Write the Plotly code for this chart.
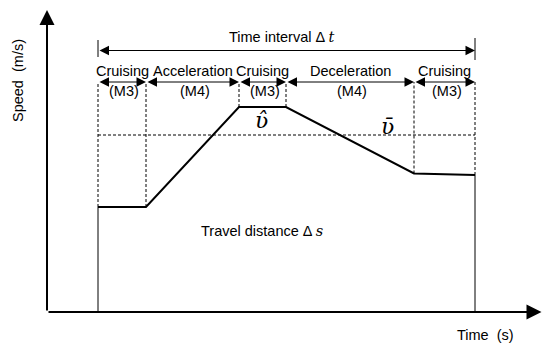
import plotly.graph_objects as go

# ---- data (arbitrary schematic units) ----
t_break = [5.1, 9.9, 19.2, 23.9, 36.7, 42.8]      # segment boundary times
speed = [10.5, 10.5, 20.5, 20.5, 13.85, 13.7]     # speed at each boundary
v_mean = 17.7                                      # average speed
seg_names = ["Cruising", "Acceleration", "Cruising", "Deceleration", "Cruising"]
seg_modes = ["(M3)", "(M4)", "(M3)", "(M4)", "(M3)"]
x_label = "Time  (s)"
y_label = "Speed  (m/s)"

FONT = "Liberation Sans, Arial, Helvetica, sans-serif"
SERIF = "DejaVu Serif, Liberation Serif, serif"
# page has an 8px body margin: figure is 542x344, mapped so 1 unit = 10 px
X_RANGE = [-3.9, 50.3]
Y_RANGE = [-4.0, 30.4]
x_tip, y_tip = 49.45, 30.2
dim_y, span_y = 23.0, 26.15

fig = go.Figure()

# speed profile
fig.add_trace(go.Scatter(x=t_break, y=speed, mode="lines",
                         line=dict(color="black", width=2), hoverinfo="skip"))

shapes = []
for t, v in [(t_break[0], speed[0]), (t_break[-1], speed[-1])]:
    shapes.append(dict(type="line", x0=t, x1=t, y0=0, y1=v,
                       line=dict(color="black", width=1)))
for t, v in zip(t_break, speed):
    shapes.append(dict(type="line", x0=t, x1=t, y0=v, y1=dim_y,
                       line=dict(color="black", width=1, dash="3px,2px")))
shapes.append(dict(type="line", x0=t_break[0], x1=t_break[-1], y0=v_mean, y1=v_mean,
                   line=dict(color="black", width=1, dash="3px,2px")))
shapes.append(dict(type="line", x0=t_break[0], x1=t_break[0], y0=25.5, y1=27.2,
                   line=dict(color="black", width=1)))
shapes.append(dict(type="line", x0=t_break[-1], x1=t_break[-1], y0=25.2, y1=27.4,
                   line=dict(color="black", width=1)))

ann = []
def arrow(x0, y0, x1, y1, width=1, size=1.6, both=False):
    d = dict(x=x1, y=y1, ax=x0, ay=y0, xref="x", yref="y", axref="x", ayref="y",
             text="", showarrow=True, arrowhead=2, arrowsize=size, arrowwidth=width,
             arrowcolor="black", standoff=0, startstandoff=0)
    if both:
        d.update(arrowside="end+start", startarrowhead=2, startarrowsize=size)
    ann.append(d)

arrow(0, 0, x_tip, 0, width=2, size=1.5)
arrow(0, 0, 0, y_tip, width=2, size=1.5)
arrow(t_break[0], span_y, t_break[-1], span_y, width=1, size=1.9, both=True)
for i in range(5):
    arrow(t_break[i], dim_y, t_break[i + 1], dim_y, width=1, size=1.9, both=True)

def text(x, y, s, size=14.5, family=FONT, angle=0):
    ann.append(dict(x=x, y=y, xref="x", yref="y", text=s, showarrow=False,
                    font=dict(family=family, size=size, color="black"),
                    textangle=angle, xanchor="center", yanchor="middle"))

for i in range(5):
    mid = (t_break[i] + t_break[i + 1]) / 2
    text(mid, 24.1, seg_names[i])
    text(mid + 0.2, 22.1, seg_modes[i])

text((t_break[0] + t_break[-1]) / 2 - 0.5, 27.5,
     "Time interval \u0394 <i><span style='font-family:DejaVu Serif'>t</span></i>")
text(21.5, 8.1,
     "Travel distance \u0394 <i><span style='font-family:DejaVu Serif'>s</span></i>")
text(21.4, 19.2, "<i>\u028b\u0302</i>", size=22, family=SERIF)
text(34.0, 18.6, "<i>\u028b\u0304</i>", size=22, family=SERIF)
text(-2.9, 23.1, y_label, angle=-90)
text(43.8, -2.3, x_label)

fig.update_layout(
    width=542, height=344, margin=dict(l=0, r=0, t=0, b=0),
    paper_bgcolor="white", plot_bgcolor="white", showlegend=False,
    xaxis=dict(range=X_RANGE, visible=False, fixedrange=True),
    yaxis=dict(range=Y_RANGE, visible=False, fixedrange=True),
    shapes=shapes, annotations=ann,
)

fig.write_html("out.html")
